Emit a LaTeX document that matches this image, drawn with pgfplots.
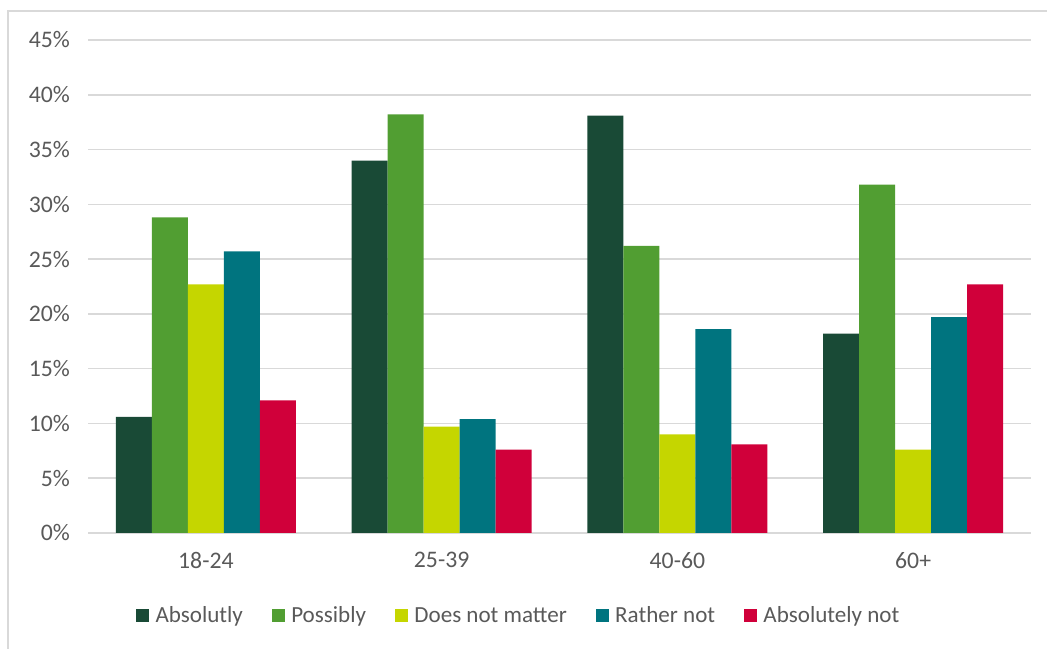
\documentclass[border=0pt]{standalone}
\usepackage{pgfplots}
\pgfplotsset{compat=1.18}
\usepackage{fontspec}
\setmainfont{Carlito}

\definecolor{cAbs}{HTML}{194A36}
\definecolor{cPos}{HTML}{519E32}
\definecolor{cDnm}{HTML}{C5D600}
\definecolor{cRat}{HTML}{00747F}
\definecolor{cNot}{HTML}{D0003A}
\definecolor{txt}{HTML}{595959}
\definecolor{grd}{HTML}{D9D9D9}

\begin{document}
\begin{tikzpicture}
\path[use as bounding box] (0,0) rectangle (785.25pt,486.75pt);
% chart frame
\draw[grd, line width=0.9pt] (6pt,-2pt) -- (6pt,478.5pt) -- (788pt,478.5pt);
\begin{axis}[
  at={(66pt,87pt)}, anchor=south west,
  scale only axis, width=707.25pt, height=369.75pt,
  ybar=0pt, bar width=27pt,
  xmin=-0.5, xmax=3.5, ymin=0, ymax=45,
  xtick={0,1,2,3}, xticklabels={18-24,25-39,40-60,60+},
  ytick={0,5,...,45},
  yticklabel={\pgfmathprintnumber{\tick}\%},
  /pgf/number format/assume math mode=true,
  axis line style={draw=none},
  major tick length=0pt,
  ymajorgrids, grid style={grd, line width=1.1pt},
  tick label style={font=\fontsize{17.8}{19}\selectfont, text=txt},
  yticklabel style={xshift=-10pt},
  xticklabel style={yshift=-11pt},
  legend columns=-1,
  legend style={draw=none, fill=none, at={(0.457,-0.168)}, anchor=center,
    font=\fontsize{17.3}{19}\selectfont, text=txt,
    /tikz/every odd column/.append style={column sep=3pt},
    /tikz/every even column/.append style={column sep=19.5pt}},
  legend image code/.code={\fill[#1] (0pt,-4.9pt) rectangle (9.75pt,4.9pt);},
  every axis plot/.append style={draw=none},
]
\addplot[fill=cAbs] coordinates {(0,10.6) (1,34.0) (2,38.1) (3,18.2)};
\addplot[fill=cPos] coordinates {(0,28.8) (1,38.2) (2,26.2) (3,31.8)};
\addplot[fill=cDnm] coordinates {(0,22.7) (1,9.7) (2,9.0) (3,7.6)};
\addplot[fill=cRat] coordinates {(0,25.7) (1,10.4) (2,18.6) (3,19.7)};
\addplot[fill=cNot] coordinates {(0,12.1) (1,7.6) (2,8.1) (3,22.7)};
\legend{Absolutly, Possibly, Does not matter, Rather not, Absolutely not}
\end{axis}
\end{tikzpicture}
\end{document}
